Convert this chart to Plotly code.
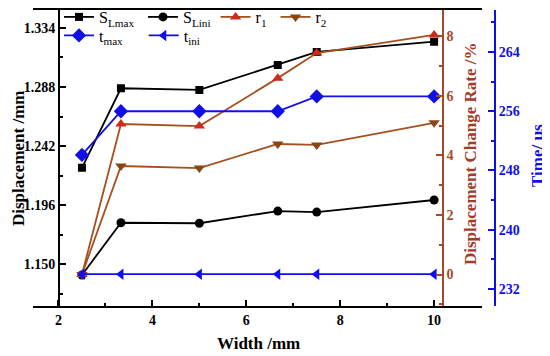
import plotly.graph_objects as go

# ---- data ----
width_mm = [2.5, 3.33, 5, 6.67, 7.5, 10]
s_lmax = [1.225, 1.287, 1.2857, 1.3052, 1.3153, 1.3233]
s_lini = [1.1415, 1.1822, 1.1818, 1.1913, 1.1905, 1.1999]
r1 = [0, 5.05, 4.98, 6.59, 7.43, 8.04]
r2 = [0, 3.64, 3.57, 4.38, 4.35, 5.09]
t_max = [250.1, 256, 256, 256, 258, 258]
t_ini = [234, 234, 234, 234, 234, 234]

# page body has an 8px margin; figure drawn in the remaining area
OFF = 8
W, H = 550 - OFF, 356 - OFF
def px(x):
    return (x - OFF) / W
def py(y):
    return 1 - (y - OFF) / H

SERIF = "Liberation Serif"
BLACK = "#000000"
BROWN = "#A8482A"
BROWN_LINE = "#A5501E"
RED_MK = "#CC2A1A"
R2_MK = "#8B4513"
BLUE = "#1010E6"
NB = "\u00a0"

fig = go.Figure()

fig.add_trace(go.Scatter(x=width_mm, y=s_lmax, name="S<sub>Lmax</sub>" + NB, mode="lines+markers",
                         line=dict(color=BLACK, width=1.8),
                         marker=dict(symbol="square", size=8, color=BLACK),
                         yaxis="y", legend="legend"))
fig.add_trace(go.Scatter(x=width_mm, y=s_lini, name="S<sub>Lini</sub>", mode="lines+markers",
                         line=dict(color=BLACK, width=1.8),
                         marker=dict(symbol="circle", size=9, color=BLACK),
                         yaxis="y", legend="legend"))
fig.add_trace(go.Scatter(x=width_mm, y=r1, name="r<sub>1</sub>" + NB, mode="lines+markers",
                         line=dict(color=BROWN_LINE, width=1.8),
                         marker=dict(symbol="triangle-up", size=10, color=RED_MK),
                         yaxis="y2", legend="legend"))
fig.add_trace(go.Scatter(x=width_mm, y=r2, name="r<sub>2</sub>", mode="lines+markers",
                         line=dict(color=BROWN_LINE, width=1.8),
                         marker=dict(symbol="triangle-down", size=10, color=R2_MK),
                         yaxis="y2", legend="legend"))
fig.add_trace(go.Scatter(x=width_mm, y=t_max, name="t<sub>max</sub>" + NB * 4, mode="lines+markers",
                         line=dict(color=BLUE, width=1.8),
                         marker=dict(symbol="diamond", size=11, color=BLUE),
                         yaxis="y3", legend="legend2"))
fig.add_trace(go.Scatter(x=width_mm, y=t_ini, name="t<sub>ini</sub>", mode="lines+markers",
                         line=dict(color=BLUE, width=1.8),
                         marker=dict(symbol="triangle-left", size=10, color=BLUE),
                         yaxis="y3", legend="legend2"))

ydom = [py(306), py(9.5)]
tickfont_black = dict(family=SERIF, size=14, color=BLACK, weight="bold")

fig.update_layout(
    template="none",
    width=W, height=H,
    margin=dict(l=0, r=0, t=0, b=0, autoexpand=False),
    paper_bgcolor="white", plot_bgcolor="white",
    xaxis=dict(domain=[px(33), px(482)], range=[1.457, 11.02],
               showline=True, linecolor=BLACK, linewidth=2, mirror=True,
               showgrid=False, zeroline=False,
               tick0=2, dtick=2, ticks="inside", ticklen=6, tickwidth=1.5, tickcolor=BLACK,
               minor=dict(dtick=1, ticks="inside", ticklen=3, tickwidth=1.5, tickcolor=BLACK),
               tickfont=tickfont_black),
    yaxis=dict(domain=ydom, range=[1.1173, 1.3484], anchor="free", position=px(59), side="left",
               showline=True, linecolor=BLACK, linewidth=2,
               showgrid=False, zeroline=False,
               tick0=1.150, dtick=0.046, tickformat=".3f",
               ticks="inside", ticklen=6, tickwidth=1.5, tickcolor=BLACK,
               minor=dict(dtick=0.023, ticks="inside", ticklen=3, tickwidth=1.5, tickcolor=BLACK),
               tickfont=tickfont_black),
    yaxis2=dict(domain=ydom, range=[-1.057, 8.893], overlaying="y", anchor="free", position=px(443), side="right",
                showline=True, linecolor=BROWN, linewidth=1.5,
                showgrid=False, zeroline=False,
                tick0=0, dtick=2, ticks="inside", ticklen=6, tickwidth=1.5, tickcolor=BROWN,
                minor=dict(dtick=1, ticks="inside", ticklen=3, tickwidth=1.5, tickcolor=BROWN),
                tickfont=dict(family=SERIF, size=14, color=BROWN, weight="bold")),
    yaxis3=dict(domain=ydom, range=[229.70, 269.74], overlaying="y", anchor="free", position=px(495), side="right",
                showline=True, linecolor=BLUE, linewidth=2,
                showgrid=False, zeroline=False,
                tick0=232, dtick=8, ticks="inside", ticklen=6, tickwidth=1.5, tickcolor=BLUE,
                minor=dict(dtick=4, ticks="inside", ticklen=3, tickwidth=1.5, tickcolor=BLUE),
                tickfont=dict(family=SERIF, size=14, color=BLUE, weight="bold")),
    legend=dict(orientation="h", x=px(59), y=py(0), xanchor="left", yanchor="top",
                bgcolor="rgba(0,0,0,0)", font=dict(family=SERIF, size=16, color=BLACK),
                itemwidth=30, tracegroupgap=0),
    legend2=dict(orientation="h", x=px(59), y=py(18.5), xanchor="left", yanchor="top",
                 bgcolor="rgba(0,0,0,0)", font=dict(family=SERIF, size=16, color=BLACK),
                 itemwidth=30, tracegroupgap=0),
    showlegend=True,
)

title_font = dict(family=SERIF, size=17, weight="bold")
common = dict(xref="paper", yref="paper", showarrow=False, xanchor="center", yanchor="middle")
fig.add_annotation(text="Width /mm", x=px(258), y=py(343), font=dict(color=BLACK, **title_font), **common)
fig.add_annotation(text="Displacement /mm", x=px(18), y=py(158), textangle=-90,
                   font=dict(color=BLACK, **title_font), **common)
fig.add_annotation(text="Displacement Change Rate /%", x=px(470), y=py(154), textangle=-90,
                   font=dict(color="#A03C28", **title_font), **common)
fig.add_annotation(text="Time/ μs", x=px(537), y=py(156), textangle=-90,
                   font=dict(color=BLUE, **title_font), **common)

fig.write_html("out.html")
